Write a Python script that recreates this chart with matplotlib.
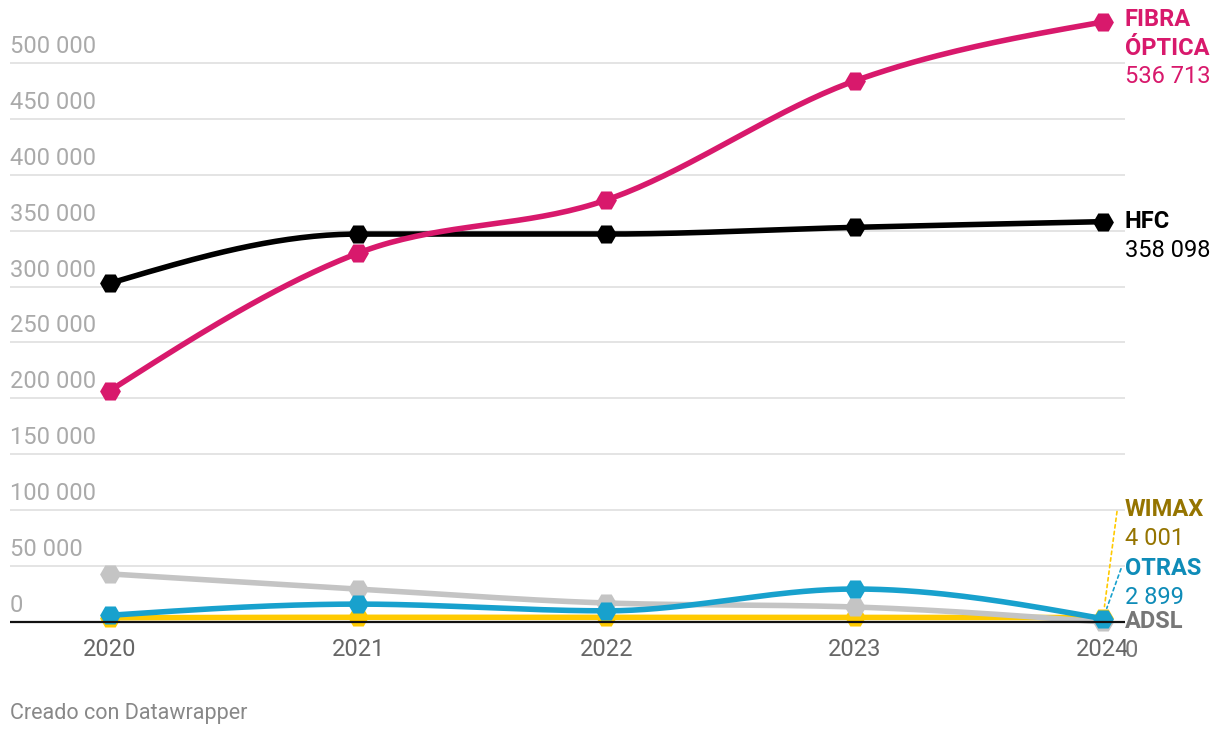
import numpy as np
import matplotlib.pyplot as plt

plt.rcParams['font.family'] = ['Roboto', 'DejaVu Sans']

years = [2020, 2021, 2022, 2023, 2024]

fibra = [207000, 330000, 377500, 484000, 536713]
hfc = [303000, 347000, 347000, 353000, 358098]
adsl = [43000, 29500, 17000, 13400, 0]
otras = [6000, 16000, 10000, 29500, 2899]
wimax = [3800, 4200, 4100, 4100, 4001]

y_ticks = [0, 50000, 100000, 150000, 200000, 250000, 300000, 350000, 400000, 450000, 500000]


def fmt(v):
    return f"{v:,}".replace(",", " ")


# curva monotona (como curveMonotoneX de d3)
def monotone(x, y, n=40):
    x = np.asarray(x, float)
    y = np.asarray(y, float)
    h = np.diff(x)
    s = np.diff(y) / h
    m = np.zeros(len(x))
    for i in range(1, len(x) - 1):
        s0, s1 = s[i - 1], s[i]
        p = (s0 * h[i] + s1 * h[i - 1]) / (h[i - 1] + h[i])
        m[i] = (np.sign(s0) + np.sign(s1)) * min(abs(s0), abs(s1), 0.5 * abs(p))
    m[0] = (3 * s[0] - m[1]) / 2
    m[-1] = (3 * s[-1] - m[-2]) / 2
    xs, ys = [], []
    for i in range(len(x) - 1):
        t = np.linspace(0, 1, n)
        h00 = 2 * t**3 - 3 * t**2 + 1
        h10 = t**3 - 2 * t**2 + t
        h01 = -2 * t**3 + 3 * t**2
        h11 = t**3 - t**2
        xs.append(x[i] + t * h[i])
        ys.append(h00 * y[i] + h10 * h[i] * m[i] + h01 * y[i + 1] + h11 * h[i] * m[i + 1])
    return np.concatenate(xs), np.concatenate(ys)


fig = plt.figure(figsize=(12.2, 7.38), dpi=100)
ax = fig.add_axes([10 / 1220, 78 / 738, 1115 / 1220, 655 / 738])
ax.set_xlim(2020 - 100 / 248.25, 2024 + 22 / 248.25)
ax.set_ylim(-33990, 551878)
ax.axis('off')

for v in y_ticks[1:]:
    ax.axhline(v, color='#e2e2e2', lw=1.3, zorder=1)
ax.axhline(0, color='#111111', lw=1.6, zorder=10)

for v in y_ticks:
    ax.annotate(fmt(v), xy=(0, v), xycoords=('axes fraction', 'data'),
                xytext=(0, 10), textcoords='offset pixels',
                ha='left', va='baseline', fontsize=17, color='#aaaaaa')

for yr in years:
    ax.annotate(str(yr), xy=(yr, 0), xytext=(0, -16), textcoords='offset pixels',
                ha='center', va='top', fontsize=17, color='#666666')

series = [
    (wimax, '#ffca00'),
    (adsl, '#c4c4c4'),
    (otras, '#18a1cd'),
    (hfc, '#000000'),
    (fibra, '#d8196c'),
]
for i, (vals, col) in enumerate(series):
    sx, sy = monotone(years, vals)
    ax.plot(sx, sy, color=col, lw=4, solid_capstyle='round', zorder=3 + i, clip_on=False)
    ax.plot(years, vals, 'H', color=col, ms=15, mew=0, zorder=3 + i, clip_on=False)

# etiquetas de la derecha
labels = [
    (fibra[-1], ['FIBRA', 'ÓPTICA'], fmt(fibra[-1]), '#d8196c', 2),
    (hfc[-1], ['HFC'], fmt(hfc[-1]), '#000000', 0),
    (wimax[-1], ['WIMAX'], fmt(wimax[-1]), '#957400', 108),
    (otras[-1], ['OTRAS'], fmt(otras[-1]), '#0f8cb8', 50),
    (adsl[-1], ['ADSL'], fmt(adsl[-1]), '#777777', 0),
]
for val, names, num, col, dy in labels:
    lines = names + [num]
    for k, txt in enumerate(lines):
        ax.annotate(txt, xy=(2024, val), xytext=(22, dy - 28.5 * k), textcoords='offset pixels',
                    ha='left', va='center', fontsize=17, color=col,
                    fontweight='bold' if k < len(names) else 'normal', zorder=12)

ax.annotate('', xy=(2024, wimax[-1]), xytext=(14, 106), textcoords='offset pixels',
            arrowprops=dict(arrowstyle='-', color='#ffca00', lw=1.2, linestyle=(0, (2, 2)),
                            shrinkA=0, shrinkB=8), zorder=12)
ax.annotate('', xy=(2024, otras[-1]), xytext=(18, 50), textcoords='offset pixels',
            arrowprops=dict(arrowstyle='-', color='#18a1cd', lw=1.2, linestyle=(0, (2, 2)),
                            shrinkA=0, shrinkB=8), zorder=12)

fig.text(10 / 1220, 1 - 714 / 738, 'Creado con Datawrapper', ha='left', va='center',
         fontsize=15.5, color='#888888')

fig.savefig('out.png', dpi=100)
